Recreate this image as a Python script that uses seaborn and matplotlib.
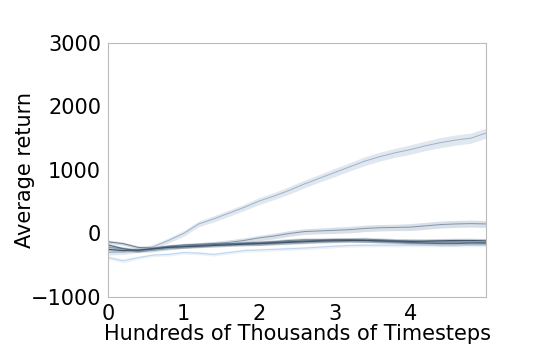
import matplotlib
matplotlib.use("Agg")
import matplotlib.pyplot as plt
import seaborn as sns
import pandas as pd

# x positions (hundreds of thousands of timesteps)
steps = [0.0, 0.2, 0.4, 0.6, 0.8, 1.0, 1.2, 1.4, 1.6, 1.8, 2.0, 2.2, 2.4,
         2.6, 2.8, 3.0, 3.2, 3.4, 3.6, 3.8, 4.0, 4.2, 4.4, 4.6, 4.8, 5.0]

run_a = [-300, -290, -260, -210, -110, 0, 150, 230, 320, 410, 510, 590, 680,
         780, 870, 960, 1050, 1140, 1210, 1270, 1320, 1380, 1430, 1470, 1500, 1580]
band_a = [40, 40, 40, 40, 40, 45, 45, 50, 50, 50, 55, 55, 60,
          60, 60, 65, 65, 70, 70, 70, 75, 75, 80, 80, 80, 80]

run_b = [-220, -240, -270, -260, -230, -200, -180, -160, -140, -110, -70, -40, 0,
         30, 40, 50, 60, 80, 90, 95, 100, 120, 140, 150, 155, 150]
band_b = [30, 30, 30, 30, 30, 35, 35, 35, 40, 40, 40, 45, 45,
          45, 45, 50, 50, 50, 50, 50, 55, 55, 55, 55, 55, 55]

run_c = [-250, -270, -260, -240, -220, -210, -200, -190, -180, -170, -160, -150, -140,
         -130, -120, -115, -110, -110, -115, -120, -125, -120, -115, -110, -110, -115]
run_d = [-180, -240, -270, -240, -210, -200, -190, -175, -165, -160, -155, -140, -130,
         -120, -110, -100, -100, -110, -120, -130, -140, -150, -160, -160, -150, -150]
run_e = [-130, -160, -220, -230, -200, -180, -170, -160, -160, -150, -140, -130, -110,
         -100, -100, -100, -95, -90, -100, -110, -120, -130, -130, -130, -140, -150]
band_dark = [25, 25, 25, 25, 25, 25, 25, 25, 25, 25, 30, 30, 30,
             30, 30, 30, 30, 30, 30, 30, 35, 35, 35, 35, 35, 35]

run_f = [-380, -430, -380, -340, -330, -300, -310, -330, -300, -270, -260, -250, -240,
         -230, -215, -200, -190, -185, -185, -185, -185, -185, -185, -185, -185, -185]
band_f = [30, 30, 25, 25, 25, 25, 25, 25, 25, 25, 25, 25, 25,
          25, 25, 25, 25, 25, 25, 25, 25, 25, 25, 25, 25, 25]

runs = [run_f, run_a, run_b, run_e, run_d, run_c]
bands = [band_f, band_a, band_b, band_dark, band_dark, band_dark]
colors = ["#bdd5ee", "#9cb2ca", "#8196ad", "#6a7f96", "#51667c", "#3d5165"]

sns.set_style("white")
fig, ax = plt.subplots(figsize=(5.4, 3.6), dpi=100)
fig.subplots_adjust(left=0.2, right=0.9, top=0.881, bottom=0.175)

for vals, band, col in zip(runs, bands, colors):
    df = pd.DataFrame({"step": steps, "ret": vals})
    sns.lineplot(data=df, x="step", y="ret", color=col, linewidth=0.7, ax=ax)
    lo = [v - b for v, b in zip(vals, band)]
    hi = [v + b for v, b in zip(vals, band)]
    ax.fill_between(steps, lo, hi, color=col, alpha=0.3, linewidth=0)

ax.set_xlim(0, 5)
ax.set_ylim(-1000, 3000)
ax.set_xticks([0, 1, 2, 3, 4])
ax.set_yticks([-1000, 0, 1000, 2000, 3000])
ax.tick_params(labelsize=15, length=3, color="#bbbbbb", labelcolor="black", pad=2)
for s in ax.spines.values():
    s.set_color("#bbbbbb")
ax.set_xlabel("Hundreds of Thousands of Timesteps", fontsize=15, labelpad=0, color="black")
ax.set_ylabel("Average return", fontsize=15, labelpad=-3, color="black")

fig.savefig("out.png", dpi=100)
